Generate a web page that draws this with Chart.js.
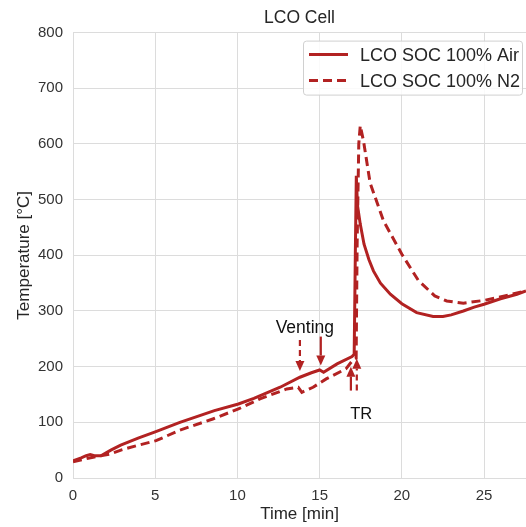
<!DOCTYPE html>
<html><head><meta charset="utf-8">
<script src="https://cdn.jsdelivr.net/npm/chart.js@4.4.0/dist/chart.umd.min.js"></script>
<style>html,body{margin:0;padding:0;background:#fff;overflow:hidden}</style>
</head><body>
<canvas id="c" width="526" height="527"></canvas>
<script>
// ---- data ----
const timeAir = [0, 0.5, 0.8, 1.05, 1.3, 1.7, 2.3, 2.9, 4, 5, 6.5, 8.6, 10.06, 11, 12.6, 13.8, 14.5, 15.0, 15.24, 16.06, 16.97, 17.1, 17.17, 17.23, 17.3, 17.47, 17.7, 18.0, 18.27, 18.7, 19.3, 20, 20.9, 21.9, 22.5, 23.0, 23.74, 24.4, 25, 26, 27, 27.55];
const tempAir = [31, 36, 40, 42, 40, 40, 50, 59, 72, 83, 100, 121, 133, 143, 163, 181, 189, 194, 190, 205, 218, 222, 400, 543, 490, 456, 420, 392, 372, 350, 330, 313, 297, 290, 290, 293, 300, 307, 312, 322, 330, 336];
const timeN2 = [0, 1, 2.25, 3, 4, 5.05, 6.5, 8.5, 10.06, 11.37, 13, 13.7, 13.92, 14.6, 15.4, 16.6, 17.0, 17.22, 17.28, 17.38, 17.47, 17.67, 18.07, 18.88, 20, 21, 22, 22.73, 23.74, 25, 26.38, 27.55];
const tempN2 = [29, 36, 43, 51, 59, 67, 86, 106, 124, 142, 160, 163, 154, 163, 178, 196, 211, 215, 420, 600, 633, 605, 530, 462, 402, 355, 327, 318, 314, 319, 328, 336];
const seriesLabels = ['LCO SOC 100% Air', 'LCO SOC 100% N2'];
const xTicks = [0, 5, 10, 15, 20, 25];
const yTicks = [0, 100, 200, 300, 400, 500, 600, 700, 800];
// annotations (data coordinates)
const ventArrows = [{x: 13.8, from: 248, to: 192, dashed: true}, {x: 15.07, from: 254, to: 202, dashed: false}];
const trArrows = [{x: 16.9, from: 157, to: 200, dashed: false}, {x: 17.26, from: 157, to: 214, dashed: true}];
const ventLabel = {x: 14.1, y: 270, text: 'Venting'};
const trLabel = {x: 17.53, y: 114, text: 'TR'};

const RED = '#b22222';
const FONT = '"Liberation Sans", Arial, sans-serif';
const GRID = '#dcdcdc';

const toXY = (xs, ys) => xs.map((x, i) => ({x, y: ys[i]}));

function arrow(ctx, x, y1, y2, dashed) {
  const dir = Math.sign(y2 - y1);
  const headLen = 10, headW = 4.5;
  ctx.save();
  ctx.strokeStyle = RED; ctx.fillStyle = RED; ctx.lineWidth = 2.2;
  ctx.setLineDash(dashed ? [6, 4] : []);
  ctx.beginPath(); ctx.moveTo(x, y1); ctx.lineTo(x, y2 - dir * headLen); ctx.stroke();
  ctx.setLineDash([]);
  ctx.beginPath();
  ctx.moveTo(x, y2); ctx.lineTo(x - headW, y2 - dir * headLen); ctx.lineTo(x + headW, y2 - dir * headLen);
  ctx.closePath(); ctx.fill();
  ctx.restore();
}

const annotPlugin = {
  id: 'annot',
  afterDatasetsDraw(chart) {
    const ctx = chart.ctx, xs = chart.scales.x, ys = chart.scales.y;
    [...ventArrows, ...trArrows].forEach(a => {
      arrow(ctx, xs.getPixelForValue(a.x), ys.getPixelForValue(a.from), ys.getPixelForValue(a.to), a.dashed);
    });
    ctx.save();
    ctx.fillStyle = '#111';
    ctx.textAlign = 'center'; ctx.textBaseline = 'middle';
    ctx.font = '17.5px ' + FONT;
    ctx.fillText(ventLabel.text, xs.getPixelForValue(ventLabel.x), ys.getPixelForValue(ventLabel.y));
    ctx.font = '16.5px ' + FONT;
    ctx.fillText(trLabel.text, xs.getPixelForValue(trLabel.x), ys.getPixelForValue(trLabel.y));
    ctx.restore();
  }
};

const legendPlugin = {
  id: 'customLegend',
  afterDraw(chart) {
    const ctx = chart.ctx, ca = chart.chartArea;
    const x0 = ca.right - 223, y0 = ca.top + 8, w = 219, h = 54;
    ctx.save();
    ctx.fillStyle = 'rgba(255,255,255,0.85)';
    ctx.strokeStyle = '#d0d0d0'; ctx.lineWidth = 1;
    ctx.beginPath(); ctx.roundRect(x0 + 0.5, y0 + 0.5, w, h, 3); ctx.fill(); ctx.stroke();
    chart.data.datasets.forEach((ds, i) => {
      const cy = y0 + 14 + i * 26;
      ctx.strokeStyle = ds.borderColor; ctx.lineWidth = ds.borderWidth;
      ctx.setLineDash(ds.borderDash || []);
      ctx.beginPath(); ctx.moveTo(x0 + 6, cy); ctx.lineTo(x0 + 45, cy); ctx.stroke();
      ctx.setLineDash([]);
      ctx.fillStyle = '#262626'; ctx.font = '18px ' + FONT;
      ctx.textAlign = 'left'; ctx.textBaseline = 'middle';
      ctx.fillText(ds.label, x0 + 57, cy + 1);
    });
    ctx.restore();
  }
};

new Chart(document.getElementById('c'), {
  type: 'line',
  data: {
    datasets: [
      {label: seriesLabels[0], data: toXY(timeAir, tempAir), borderColor: RED, borderWidth: 3, pointRadius: 0, tension: 0, fill: false},
      {label: seriesLabels[1], data: toXY(timeN2, tempN2), borderColor: RED, borderWidth: 3, borderDash: [9, 5], pointRadius: 0, tension: 0, fill: false}
    ]
  },
  options: {
    responsive: false, animation: false, devicePixelRatio: 1,
    layout: {padding: {top: 0, right: 0, bottom: 0, left: 0}},
    plugins: {
      legend: {display: false}, tooltip: {enabled: false},
      title: {display: true, text: 'LCO Cell', fullSize: false, color: '#262626',
        font: {family: FONT, size: 17.5, weight: 'normal'}, padding: {top: 8, bottom: 3.6}}
    },
    scales: {
      x: {
        type: 'linear', min: 0, max: 27.55,
        afterFit(s) { s.height = 49; },
        afterBuildTicks(s) { s.ticks = xTicks.map(v => ({value: v})); },
        ticks: {includeBounds: false, padding: 9, color: '#333', font: {family: FONT, size: 15}},
        grid: {color: GRID, lineWidth: 1, drawTicks: false},
        border: {color: GRID, width: 1},
        title: {display: true, text: 'Time [min]', color: '#262626', font: {family: FONT, size: 17}, padding: {top: 0, bottom: 2}}
      },
      y: {
        type: 'linear', min: 0, max: 800,
        afterFit(s) { s.width = 73; },
        afterBuildTicks(s) { s.ticks = yTicks.map(v => ({value: v})); },
        ticks: {padding: 10, color: '#333', font: {family: FONT, size: 15}},
        grid: {color: GRID, lineWidth: 1, drawTicks: false},
        border: {color: GRID, width: 1},
        title: {display: true, text: 'Temperature [°C]', color: '#262626', font: {family: FONT, size: 17}, padding: {top: 14, bottom: 0}}
      }
    }
  },
  plugins: [annotPlugin, legendPlugin]
});
</script>
</body></html>
